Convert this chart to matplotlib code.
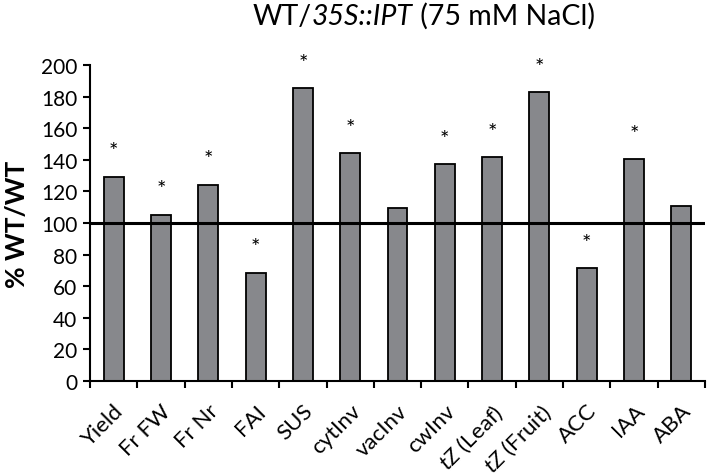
import matplotlib
matplotlib.use("Agg")
import matplotlib.pyplot as plt
import numpy as np

categories = ["Yield", "Fr FW", "Fr Nr", "FAI", "SUS", "cytInv", "vacInv",
              "cwInv", "$\\mathit{tZ}$ (Leaf)", "$\\mathit{tZ}$ (Fruit)", "ACC", "IAA", "ABA"]
values = [129.3, 105.3, 124.2, 68.6, 185.2, 144.0, 109.7, 137.3, 141.5, 182.7, 71.5, 140.2, 110.6]
significant = [True, True, True, True, True, True, False, True, True, True, True, True, False]
yticks = [0, 20, 40, 60, 80, 100, 120, 140, 160, 180, 200]
title_parts = [("WT/", "normal"), ("35S::IPT", "italic"), (" (75 mM NaCl)", "normal")]

plt.rcParams['font.family'] = ['Lato', 'DejaVu Sans']
plt.rcParams['mathtext.fontset'] = 'custom'
plt.rcParams['mathtext.it'] = 'Lato:italic'
plt.rcParams['mathtext.rm'] = 'Lato'

fig = plt.figure(figsize=(7.12, 4.77), dpi=100)
ax = fig.add_axes([90/712, 1-382/477, 615/712, 316/477])

x = np.arange(len(categories))
ax.bar(x, values, width=0.42, color='#87888c', edgecolor='black', linewidth=1.3, zorder=2)
ax.axhline(100, color='black', linewidth=2.2, zorder=3)

for xi, v, s in zip(x, values, significant):
    if s:
        ax.text(xi, v + 16, '*', ha='center', va='center', fontsize=16, color='black')

ax.set_xlim(-0.5, len(categories) - 0.5)
ax.set_ylim(0, 200)
ax.set_yticks(yticks)
ax.set_yticklabels([str(t) for t in yticks], fontsize=15)
ax.set_xticks(np.arange(len(categories) + 1) - 0.5, minor=False)
ax.set_xticklabels([])
ax.set_xticks(x, minor=True)
ax.set_xticklabels(categories, minor=True, rotation=45, ha='right',
                   rotation_mode='anchor', fontsize=16)
ax.tick_params(axis='x', which='minor', length=0, pad=14)
ax.tick_params(axis='x', which='major', length=5, width=1.5, direction='out')
ax.tick_params(axis='y', length=5, width=1.5, direction='out', pad=4)

for side in ['top', 'right']:
    ax.spines[side].set_visible(False)
for side in ['left', 'bottom']:
    ax.spines[side].set_linewidth(1.5)

ax.set_ylabel('% WT/WT', fontsize=19, fontweight='bold', labelpad=9)

# title built from pieces (mixed upright / italic)
fig.canvas.draw()
renderer = fig.canvas.get_renderer()
tsize = 20.5
widths = []
for s, st in title_parts:
    t = fig.text(0, 0, s, fontsize=tsize, style=st)
    widths.append(t.get_window_extent(renderer).width)
    t.remove()
total = sum(widths)
cx = 424
xpos = cx - total / 2
ybase = 477 - 25
for (s, st), w in zip(title_parts, widths):
    fig.text(xpos / 712, ybase / 477, s, fontsize=tsize, style=st, va='baseline')
    xpos += w

fig.savefig('out.png', dpi=100)
